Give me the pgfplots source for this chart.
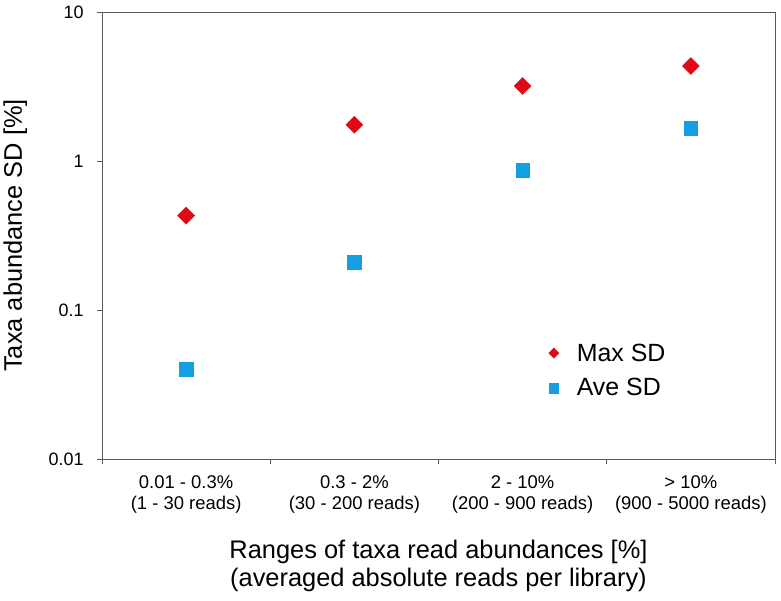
\documentclass[border=0pt]{standalone}
\usepackage{fontspec}
\setmainfont{Liberation Sans}
\usepackage{pgfplots}
\pgfplotsset{compat=1.18}
\definecolor{maxred}{HTML}{DE0A17}
\definecolor{aveblue}{HTML}{14A0E0}
\definecolor{axgray}{HTML}{5A5A5A}
\begin{document}
\begin{tikzpicture}
\begin{axis}[
  scale only axis,
  width=673bp, height=447bp,
  ymode=log,
  ymin=0.01, ymax=10,
  xmin=0, xmax=4,
  ytick={0.01,0.1,1,10},
  yticklabels={0.01,0.1,1,10},
  yminorticks=false,
  xtick={0,1,2,3,4},
  xtick pos=bottom, ytick pos=left,
  x tick label as interval,
  xticklabels={{0.01 - 0.3\%\\(1 - 30 reads)},{0.3 - 2\%\\(30 - 200 reads)},{2 - 10\%\\(200 - 900 reads)},{> 10\%\\(900 - 5000 reads)}},
  xticklabel style={align=center, font=\fontsize{18.5}{21}\selectfont, yshift=-8bp},
  yticklabel style={font=\fontsize{18}{21}\selectfont, xshift=-10bp},
  /pgf/number format/assume math mode=true,
  tick align=outside,
  major tick length=5bp,
  axis line style={draw=axgray, line width=1pt},
  every tick/.style={draw=axgray, line width=1pt},
  xlabel={Ranges of taxa read abundances [\%]\\(averaged absolute reads per library)},
  xlabel style={align=center, font=\fontsize{25.5}{28}\selectfont, at={(axis description cs:0.5,-0.2394)}, anchor=center},
  ylabel={Taxa abundance SD [\%]},
  ylabel style={font=\fontsize{25.5}{28}\selectfont, at={(axis description cs:-0.129,0.5)}, anchor=center},
  legend style={at={(rel axis cs:0.6635,0.263)}, anchor=north west, draw=none, fill=none,
    font=\fontsize{25}{29}\selectfont, row sep=12bp, inner sep=0pt},
  legend cell align=left,
  legend image code/.code={\path[draw=none,fill=none] (0bp,0bp) -- (21bp,0bp);\draw[#1] plot coordinates {(0bp,0bp)};},
]
\addplot[only marks, mark=square*, mark size=6bp, mark options={rotate=45}, color=maxred,
  legend image post style={mark size=3.6bp}] coordinates {
  (0.5,0.43) (1.5,1.75) (2.5,3.19) (3.5,4.34)
};
\addlegendentry{Max SD}
\addplot[only marks, mark=square*, mark size=6.8bp, color=aveblue,
  legend image post style={mark size=4.8bp}] coordinates {
  (0.5,0.040) (1.5,0.21) (2.5,0.87) (3.5,1.66)
};
\addlegendentry{Ave SD}
\coordinate (bl) at (rel axis cs:0,0);
\coordinate (tr) at (rel axis cs:1,1);
\end{axis}
\pgfresetboundingbox
\path[use as bounding box] ([shift={(-102bp,-142bp)}]bl) rectangle ([shift={(6bp,12bp)}]tr);
\end{tikzpicture}
\end{document}
